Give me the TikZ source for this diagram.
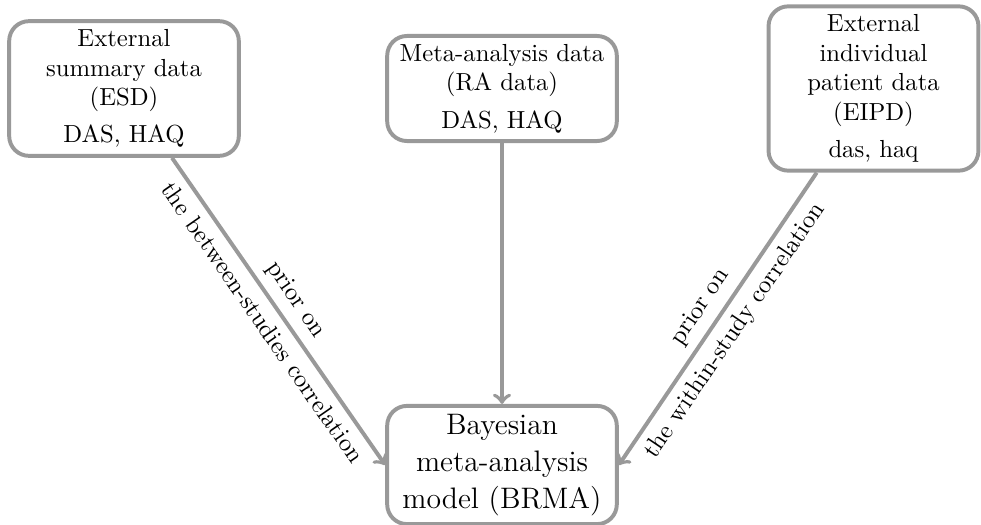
\documentclass[tikz,border=0pt]{standalone}
\usepackage{tikz}

\tikzset{every picture/.style={line width=1.6pt}}
\tikzset{
  databox/.style={draw={rgb, 255:red, 153; green, 153; blue, 153}, rounded corners=8pt, align=center},
  link/.style={draw={rgb, 255:red, 153; green, 153; blue, 153}, ->},
}

\begin{document}
\begin{tikzpicture}[x=0.405pt,y=0.405pt]
	\useasboundingbox (0,0) rectangle (981,-525);

	% Data sources
	\node[databox, minimum width=93pt, minimum height=54.5pt] (esd) at (124,-88.5) {External\\ summary data\\ (ESD)\\[3pt] DAS, HAQ};
	\node[databox, minimum width=93pt, minimum height=42pt] (ra) at (502,-88.5) {Meta-analysis data\\ (RA data)\\[3pt] DAS, HAQ};
	\node[databox, minimum width=85pt, minimum height=66.5pt] (eipd) at (873.5,-88.5) {External\\ individual\\ patient data\\ (EIPD)\\[3pt] das, haq};
	% Model
	\node[databox, minimum width=93pt, minimum height=45.5pt, font=\fontsize{12}{15}\selectfont] (brma) at (502,-465) {Bayesian\\ meta-analysis\\ model (BRMA)};

	% Links
	\draw[link] (esd) -- (brma.west) node[midway, above, sloped] {prior on} node[midway, below, sloped] {the between-studies correlation};
	\draw[link] (ra) -- (brma);
	\draw[link] (eipd) -- (brma.east) node[midway, above, sloped] {prior on} node[midway, below, sloped] {the within-study correlation};

\end{tikzpicture}
\end{document}
